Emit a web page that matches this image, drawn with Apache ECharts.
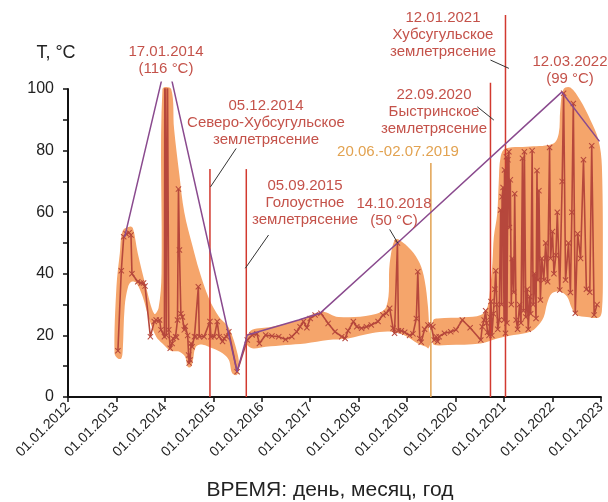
<!DOCTYPE html>
<html>
<head>
<meta charset="utf-8">
<script src="https://cdn.jsdelivr.net/npm/echarts@6/dist/echarts.min.js"></script>
<style>
html,body{margin:0;padding:0;background:#fff;}
#chart{width:608px;height:502px;}
</style>
</head>
<body>
<div id="chart"></div>
<script>
// ---- Data (decimal years, °C) ----
const yearTicks = [2012,2013,2014,2015,2016,2017,2018,2019,2020,2021,2022,2023];

const measurements2013_2015 = [
  [2013.03,15],[2013.10,41],[2013.15,52],[2013.20,53],[2013.26,53.3],[2013.30,52.6],[2013.32,40],
  [2013.44,37.4],[2013.51,37],[2013.56,37],[2013.59,36],[2013.70,19.6],[2013.78,24.5],[2013.82,25],
  [2013.89,25],[2013.92,21.8],[2013.99,19.6],[2014.00,116],[2014.03,20],[2014.05,116],[2014.08,21.8],
  [2014.11,15.8],[2014.15,17.4],[2014.17,19],[2014.22,19.6],[2014.24,19.4],[2014.26,25],[2014.28,67.5],
  [2014.30,47.7],[2014.33,27],[2014.36,26],[2014.40,21.8],[2014.42,23],[2014.47,20],[2014.49,13.6],
  [2014.50,11],[2014.52,12],[2014.54,17.4],[2014.56,16.3],[2014.61,19.6],[2014.64,19.6],[2014.69,35.8],
  [2014.71,19.6],[2014.81,19.6],[2014.93,24.5],[2014.95,19.6],[2015.02,19.6],[2015.08,24.5],[2015.12,19.6],
  [2015.19,18],[2015.22,19],[2015.27,19.6],[2015.32,21.2],[2015.49,8.2]
];
const measurements2015_2019 = [
  [2015.70,18.5],[2015.80,20.1],[2015.90,20.5],[2015.95,17.4],[2016.08,20.1],[2016.21,19.8],[2016.35,19.6],
  [2016.49,18.7],[2016.62,19.6],[2016.72,21.2],[2016.79,22.8],[2016.86,24.5],[2016.93,22.5],[2017.00,25.5],
  [2017.10,26.6],[2017.22,27.2],[2017.37,23.9],[2017.51,21.2],[2017.65,19.6],[2017.72,19.0],[2017.78,21.5],
  [2017.89,24.5],[2017.96,22.8],[2018.06,22.3],[2018.16,22.8],[2018.26,23.4],[2018.40,24.5],[2018.50,26.6],
  [2018.57,27.2],[2018.64,28.8],[2018.71,22.3],[2018.74,20.7],[2018.80,50.0],[2018.82,21.5],[2018.88,21.5],
  [2018.95,21.0],[2019.05,20.0],[2019.12,20.5],[2019.19,25.5],[2019.22,40.7],[2019.26,19.0],[2019.29,17.8],
  [2019.36,22.0],[2019.43,23.4],[2019.49,23.4]
];
const measurements2019_2023 = [
  [2019.53,22.8],[2019.56,18.5],[2019.60,19.6],[2019.63,18.0],[2019.66,19.6],[2019.77,20.7],[2019.90,21.2],
  [2020.01,21.8],[2020.14,25.0],[2020.30,22.5],[2020.52,18.5],[2020.55,22.8],[2020.59,25.0],[2020.62,28],
  [2020.64,24],[2020.66,21],[2020.69,20],[2020.71,26],[2020.73,31],[2020.75,20],[2020.78,27],[2020.81,35],
  [2020.83,41],[2020.85,30],[2020.87,22],[2020.90,25],[2020.93,60.7],[2020.95,30],[2020.96,65],[2020.98,68],
  [2021.00,25],[2021.01,73.7],[2021.03,20.7],[2021.05,78],[2021.06,24],[2021.08,77],[2021.10,79.6],[2021.11,55],
  [2021.13,70.5],[2021.15,30],[2021.17,45],[2021.20,34],[2021.22,66],[2021.25,25],[2021.28,22],[2021.32,30],
  [2021.35,24],[2021.38,77.5],[2021.40,28],[2021.42,79.6],[2021.45,26],[2021.48,35],[2021.50,22],[2021.53,32.6],
  [2021.55,27],[2021.58,80],[2021.60,30],[2021.63,40],[2021.66,25.5],[2021.68,73.5],[2021.70,38],[2021.72,67],
  [2021.75,31.5],[2021.78,45],[2021.82,38],[2021.86,50],[2021.90,37.4],[2021.94,81],[2021.96,45],[2022.00,53.7],
  [2022.03,40],[2022.07,46],[2022.10,60],[2022.15,34.7],[2022.20,70],[2022.23,98.6],[2022.27,38],[2022.33,50],
  [2022.37,33.9],[2022.40,60],[2022.43,95.3],[2022.47,27.2],[2022.52,53],[2022.58,45],[2022.64,77],[2022.70,35],
  [2022.77,34],[2022.81,81.6],[2022.86,26.6],[2022.92,30]
];

// upper trend of maxima
const maxTrend = [
  [2013.17,52],[2014.04,110],[2015.49,8.2],[2015.70,20.1],[2016.76,25],[2017.21,27.3],
  [2018.80,50],[2022.19,99],[2022.97,83]
];

// envelope outlines (closed polygons)
const envelope2013 = [
  [2012.96,14.2],[2013.00,35.8],[2013.07,46.7],[2013.13,54],[2013.27,55.3],[2013.34,54.8],[2013.44,46.7],
  [2013.61,35.8],[2013.78,27],[2013.87,29],[2013.93,40],[2013.95,100],[2014.13,100],[2014.19,87],
  [2014.30,72],[2014.40,60],[2014.57,49],[2014.71,41],[2014.91,32],[2015.12,26],[2015.32,22.5],
  [2015.50,14],[2015.53,9.8],[2015.49,7.2],[2015.39,7.7],[2015.32,12],[2015.19,14.2],[2014.98,15.8],
  [2014.78,17],[2014.64,16.3],[2014.58,12],[2014.54,9.8],[2014.47,9.8],[2014.42,13],[2014.30,14.7],
  [2014.12,15],[2013.95,17.4],[2013.82,19.6],[2013.68,25],[2013.54,32.6],[2013.41,37],[2013.31,37.4],
  [2013.24,35.8],[2013.17,29.3],[2013.13,15.3],[2013.10,12.5],[2013.03,12.5]
];
const envelope2015 = [
  [2015.67,17.5],[2015.70,19.6],[2015.80,21.8],[2016.21,22.8],[2016.76,25],[2017.24,27.7],[2017.58,26],
  [2018.26,26.6],[2018.57,29.3],[2018.64,43.4],[2018.74,51],[2018.84,51],[2019.08,47.7],[2019.26,43.4],
  [2019.36,38],[2019.43,29.3],[2019.46,21.8],[2019.49,18.5],[2019.44,15.8],[2019.39,16.3],[2019.22,17.4],
  [2018.95,20],[2018.67,21.2],[2018.26,20.7],[2017.78,19],[2017.37,18.5],[2016.90,17.4],[2016.49,16.9],
  [2016.08,16.3],[2015.80,15.8]
];
const envelope2019 = [
  [2019.51,21],[2019.54,25],[2019.63,25.5],[2020.18,25.9],[2020.52,26.6],[2020.66,29.3],[2020.71,34.7],
  [2020.76,43.4],[2020.79,52],[2020.86,59.6],[2020.89,69.4],[2020.93,78],[2021.03,80.7],[2021.54,81.3],
  [2022.02,82.3],[2022.13,85.6],[2022.16,93.2],[2022.23,100],[2022.37,100.5],[2022.57,96.4],[2022.78,90],
  [2022.95,83.4],[2023.02,74.8],[2023.04,40],[2023.02,28],[2022.96,25.8],[2022.71,26],[2022.50,26.6],
  [2022.40,28.8],[2022.30,32.6],[2022.16,34.2],[2021.99,33.7],[2021.89,30.4],[2021.82,26],[2021.68,22.8],
  [2021.54,21.2],[2021.20,20.1],[2020.86,19],[2020.52,17.4],[2019.84,16.9],[2019.56,16.9],[2019.52,18]
];
const envelopes = [envelope2013, envelope2015, envelope2019];

// events
const quakeDates = [2014.93, 2015.68, 2020.72, 2021.03];
const quakeLineTops = [74, 74, 102, 124];
const campaignDate = 2019.49;
const campaignLineTop = 76;

// leader lines for annotations
const leaderLines = [
  [[2014.94,68.2],[2015.47,80.7]],
  [[2015.66,41.8],[2016.14,52.6]],
  [[2018.64,54.4],[2018.81,49.9]],
  [[2020.45,94.2],[2020.79,89.9]],
  [[2020.72,109.4],[2021.10,106.7]]
];

const COL_ENV = '#f5a56b';
const COL_DATA = '#b6473c';
const COL_MAX = '#8a4a8e';
const COL_QUAKE = '#d2392f';
const COL_CAMP = '#e2a250';
const COL_TXT = '#c4524a';

const measurements = measurements2013_2015.concat(measurements2015_2019, measurements2019_2023);

const chart = echarts.init(document.getElementById('chart'), null, {renderer:'canvas'});

const crossSymbol = 'path://M0,1.2L1.2,0L5,3.8L8.8,0L10,1.2L6.2,5L10,8.8L8.8,10L5,6.2L1.2,10L0,8.8L3.8,5Z';

const series = [];
series.push({
  type: 'custom',
  clip: false,
  silent: true,
  z: 1,
  data: envelopes.map((e, i) => [e[0][0], e[0][1], i]),
  encode: {x: 0, y: 1},
  renderItem: function (params, api) {
    const poly = envelopes[params.dataIndex];
    const pts = poly.map(p => api.coord(p));
    return {type: 'polygon', shape: {points: pts, smooth: 0.35}, style: {fill: COL_ENV, stroke: null}};
  }
});
quakeDates.forEach((d, i) => {
  series.push({
    type: 'line', clip: false, silent: true, symbol: 'none', z: 3,
    data: [[d, 0], [d, quakeLineTops[i]]],
    lineStyle: {color: COL_QUAKE, width: 1.5}
  });
});
series.push({
  type: 'line', clip: false, silent: true, symbol: 'none', z: 3,
  data: [[campaignDate, 0], [campaignDate, campaignLineTop]],
  lineStyle: {color: COL_CAMP, width: 1.5}
});
series.push({
  type: 'line', clip: true, silent: true, z: 4,
  data: measurements,
  symbol: crossSymbol, symbolSize: 6,
  itemStyle: {color: COL_DATA},
  lineStyle: {color: COL_DATA, width: 1.6}
});
series.push({
  type: 'line', clip: false, silent: true, symbol: 'none', z: 5,
  data: maxTrend,
  lineStyle: {color: COL_MAX, width: 1.5}
});
leaderLines.forEach(l => {
  series.push({
    type: 'line', clip: false, silent: true, symbol: 'none', z: 5,
    data: l, lineStyle: {color: '#333', width: 1}
  });
});

function label(x, y, text, color, extra) {
  return Object.assign({
    type: 'text', x: x, y: y, z: 100,
    style: {text: text, fill: color, font: '15px "Liberation Sans", Arial, sans-serif',
      textAlign: 'center', textVerticalAlign: 'middle', lineHeight: 17}
  }, extra || {});
}

const graphics = [
  {type:'text', x: 56, y: 53, z:100, style:{text:'T, °C', fill:'#222', font:'18px "Liberation Sans", Arial, sans-serif', textAlign:'center', textVerticalAlign:'middle'}},
  {type:'text', x: 330, y: 490, z:100, style:{text:'ВРЕМЯ: день, месяц, год', fill:'#222', font:'21px "Liberation Sans", Arial, sans-serif', textAlign:'center', textVerticalAlign:'middle'}},
  {type:'text', x: 166, y: 60, z:100, style:{text:'17.01.2014\n(116 °C)', fill: COL_TXT, font:'15px "Liberation Sans", Arial, sans-serif', textAlign:'center', textVerticalAlign:'middle', lineHeight:17, backgroundColor:'#fff', padding:[4,4,5,4]}},
  label(266, 123, '05.12.2014\nСеверо-Хубсугульское\nземлетрясение', COL_TXT),
  label(305, 203, '05.09.2015\nГолоустное\nземлетрясение', COL_TXT),
  label(394, 212, '14.10.2018\n(50 °C)', COL_TXT),
  label(398, 152, '20.06.-02.07.2019', COL_CAMP),
  label(434, 112, '22.09.2020\nБыстринское\nземлетрясение', COL_TXT),
  label(443, 35, '12.01.2021\nХубсугульское\nземлетрясение', COL_TXT),
  label(570, 70, '12.03.2022\n(99 °C)', COL_TXT)
];

chart.setOption({
  animation: false,
  backgroundColor: '#fff',
  grid: {left: 68, right: 2, top: 89, bottom: 105, containLabel: false},
  xAxis: {
    type: 'value', min: yearTicks[0], max: yearTicks[yearTicks.length-1], interval: 1,
    axisLine: {lineStyle: {color: '#111', width: 2}},
    axisTick: {show: true, inside: false, length: 5, lineStyle: {color: '#111', width: 1.5}},
    axisLabel: {rotate: 45, margin: 8, color: '#222', fontSize: 14, fontFamily: '"Liberation Sans", Arial, sans-serif',
      formatter: v => '01.01.' + v},
    splitLine: {show: false}
  },
  yAxis: {
    type: 'value', min: 0, max: 100, interval: 10,
    axisLine: {show: true, lineStyle: {color: '#111', width: 2}},
    axisTick: {show: true, inside: false, length: 5, lineStyle: {color: '#111', width: 1.5}},
    axisLabel: {margin: 14, color: '#222', fontSize: 16, fontFamily: '"Liberation Sans", Arial, sans-serif',
      formatter: v => (v % 20 === 0 ? String(v) : '')},
    splitLine: {show: false}
  },
  series: series,
  graphic: graphics
});
</script>
</body>
</html>
